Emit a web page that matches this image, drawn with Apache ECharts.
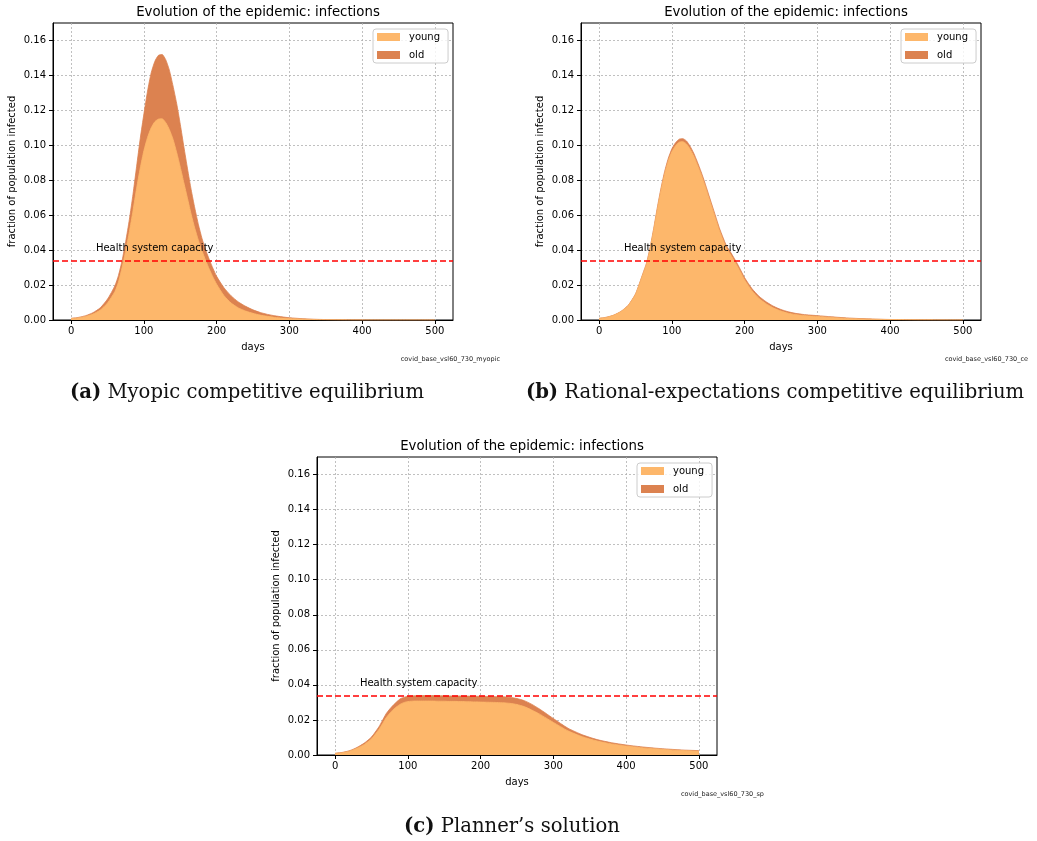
<!DOCTYPE html>
<html><head><meta charset="utf-8">
<script src="https://cdn.jsdelivr.net/npm/echarts@6/dist/echarts.min.js"></script>
<style>html,body{margin:0;padding:0;background:#fff}#c{width:1037px;height:841px}</style>
</head><body><div id="c"></div>
<script>
// ---- data ----
const days = [0,10,20,30,40,50,60,65,70,75,80,85,90,95,100,105,110,115,120,125,130,135,140,145,150,155,160,165,170,175,180,185,190,195,200,210,220,230,240,250,260,270,280,290,300,320,340,360,380,400,420,440,460,480,500];

// (a) myopic competitive equilibrium
const youngA = [0.0008,0.0012,0.0020,0.0034,0.0057,0.0098,0.0162,0.0217,0.0300,0.0397,0.0505,0.0625,0.0755,0.0870,0.0970,0.1045,0.1100,0.1135,0.1150,0.1152,0.1130,0.1090,0.1035,0.0960,0.0875,0.0785,0.0695,0.0605,0.0525,0.0455,0.0395,0.0340,0.0290,0.0245,0.0205,0.0140,0.0097,0.0069,0.0051,0.0038,0.0028,0.0021,0.0015,0.0011,0.0008,0.00045,0.0002,0.0001,0.00005,0.00002,0.00001,0.000005,0.000003,0.000002,0.000001];
const oldA   = [0.0002,0.0003,0.0005,0.0008,0.0013,0.0022,0.0033,0.0038,0.0040,0.0053,0.0070,0.0095,0.0125,0.0170,0.0210,0.0265,0.0315,0.0345,0.0365,0.0368,0.0360,0.0340,0.0305,0.0280,0.0245,0.0205,0.0170,0.0140,0.0115,0.0090,0.0070,0.0060,0.0055,0.0050,0.0045,0.0045,0.0041,0.0034,0.0027,0.0020,0.0015,0.0011,0.0009,0.0007,0.0005,0.00025,0.00015,0.00008,0.00003,0.00002,0.00001,0.000005,0.000003,0.000002,0.000001];

// (b) rational-expectations competitive equilibrium
const youngB = [0.00095,0.0015,0.0027,0.0048,0.0083,0.0147,0.0260,0.0319,0.0407,0.0516,0.0634,0.0743,0.0836,0.0910,0.0964,0.0998,0.1018,0.1021,0.1008,0.0978,0.0939,0.0889,0.0835,0.0775,0.0711,0.0646,0.0581,0.0516,0.0461,0.0411,0.0379,0.0344,0.0308,0.0269,0.0229,0.0168,0.0123,0.0092,0.0068,0.0051,0.0039,0.0031,0.0026,0.0023,0.0020,0.0014,0.0009,0.0006,0.0004,0.00023,0.00016,0.00008,0.00006,0.00003,0.000025];
const oldB   = [0.00005,0.0001,0.0001,0.00015,0.0002,0.0003,0.0005,0.0006,0.0008,0.0009,0.0011,0.0012,0.0014,0.0015,0.0016,0.0017,0.0017,0.0017,0.0017,0.0017,0.0016,0.0016,0.0015,0.0015,0.0014,0.0014,0.0014,0.0014,0.0014,0.0014,0.0014,0.0014,0.0014,0.0013,0.0013,0.0012,0.0012,0.0011,0.0010,0.0009,0.0008,0.0007,0.0006,0.0005,0.0005,0.0004,0.0003,0.0002,0.0001,0.00007,0.00004,0.00002,0.00001,0.00001,0.000005];

// (c) planner's solution
const youngC = [0.0009,0.0013,0.0022,0.0038,0.0060,0.0092,0.0145,0.0178,0.0212,0.0238,0.0260,0.0277,0.0291,0.0300,0.0305,0.0307,0.0308,0.0308,0.0308,0.0308,0.0308,0.0308,0.0307,0.0307,0.0307,0.0306,0.0306,0.0306,0.0305,0.0305,0.0304,0.0304,0.0303,0.0303,0.0302,0.0301,0.0300,0.0298,0.0295,0.0288,0.0276,0.0257,0.0236,0.0211,0.0186,0.0138,0.0104,0.0080,0.0063,0.0051,0.0042,0.0035,0.0029,0.0025,0.0021];
const oldC   = [0.0001,0.0002,0.0003,0.0005,0.0008,0.0011,0.0015,0.0019,0.0023,0.0024,0.0025,0.0028,0.0031,0.0030,0.0030,0.0030,0.0030,0.0031,0.0031,0.0031,0.0031,0.0031,0.0031,0.0031,0.0031,0.0031,0.0031,0.0031,0.0032,0.0032,0.0032,0.0032,0.0032,0.0032,0.0033,0.0033,0.0033,0.0034,0.0034,0.0034,0.0034,0.0033,0.0029,0.0026,0.0022,0.0015,0.0011,0.0008,0.0007,0.0006,0.0005,0.0004,0.0004,0.0003,0.0004];

const xTicks = [0,100,200,300,400,500];
const yTicks = [0,0.02,0.04,0.06,0.08,0.10,0.12,0.14,0.16];
const capacity = 0.0337;
const capacityLabel = 'Health system capacity';
const capacityLabelAt = [34, 0.041];
const seriesNames = ['young','old'];
const panelTitle = 'Evolution of the epidemic: infections';
const xName = 'days';
const yName = 'fraction of population infected';
const captionTags = ['(a)','(b)','(c)'];
const captionTexts = ['Myopic competitive equilibrium','Rational-expectations competitive equilibrium','Planner\u2019s solution'];
const fileTags = ['covid_base_vsl60_730_myopic','covid_base_vsl60_730_ce','covid_base_vsl60_730_sp'];

// ---- layout / styles ----
const youngColor = '#fdb76b';
const oldColor = '#dc8250';
const FONT = 'DejaVu Sans';
const panels = [
  {young: youngA, old: oldA, grid:{left:53, top:23, width:400, height:297}, capX:247, capY:393},
  {young: youngB, old: oldB, grid:{left:581, top:23, width:400, height:297}, capX:775, capY:393},
  {young: youngC, old: oldC, grid:{left:317, top:457, width:400, height:298}, capX:512, capY:827}
];

const chart = echarts.init(document.getElementById('c'), null, {renderer:'canvas'});
const grid = [], xAxis = [], yAxis = [], series = [], legend = [], title = [], graphic = [];
const gridLine = {show:true, lineStyle:{color:'#b0b0b0', width:0.8, type:[2,2]}};

panels.forEach((p, i) => {
  const g = p.grid;
  grid.push(Object.assign({show:true, borderColor:'#000', borderWidth:1, backgroundColor:'transparent', containLabel:false}, g));
  xAxis.push({
    type:'value', gridIndex:i, min:-25, max:525,
    name:xName, nameLocation:'middle', nameGap:22,
    nameTextStyle:{fontFamily:FONT, fontSize:10, color:'#000'},
    axisLine:{show:true, onZero:false, lineStyle:{color:'#000', width:1}},
    axisTick:{show:true, length:4, lineStyle:{color:'#000'}, customValues:xTicks},
    axisLabel:{fontFamily:FONT, fontSize:10, color:'#000', margin:6, customValues:xTicks},
    splitLine:gridLine
  });
  yAxis.push({
    type:'value', gridIndex:i, min:0, max:0.17,
    name:yName, nameLocation:'middle', nameGap:36, nameRotate:90,
    nameTextStyle:{fontFamily:FONT, fontSize:10, color:'#000'},
    axisLine:{show:true, onZero:false, lineStyle:{color:'#000', width:1}},
    axisTick:{show:true, length:4, lineStyle:{color:'#000'}, customValues:yTicks},
    axisLabel:{fontFamily:FONT, fontSize:10, color:'#000', margin:7, customValues:yTicks, formatter:v=>v.toFixed(2)},
    splitLine:gridLine
  });
  // stacked areas: the "old" layer sits on top of the "young" layer (cumulative top edge)
  const oldTop = days.map((d,k)=>[d, p.young[k] + p.old[k]]);
  series.push({
    type:'line', name:seriesNames[1], xAxisIndex:i, yAxisIndex:i,
    data: oldTop, symbol:'none', smooth:0.2, z:2,
    lineStyle:{width:0.8, color:oldColor}, itemStyle:{color:oldColor},
    areaStyle:{color:oldColor, opacity:1, origin:'start'}
  });
  series.push({
    type:'line', name:seriesNames[0], xAxisIndex:i, yAxisIndex:i,
    data: days.map((d,k)=>[d, p.young[k]]), symbol:'none', smooth:0.2, z:3,
    lineStyle:{width:0.8, color:youngColor}, itemStyle:{color:youngColor},
    areaStyle:{color:youngColor, opacity:1, origin:'start'},
    markLine:{silent:true, symbol:'none', precision:6, label:{show:false},
      lineStyle:{color:'#ff0000', width:1.5, type:[6,3]},
      data:[{yAxis:capacity}]},
    markPoint:{silent:true, symbol:'circle', symbolSize:0,
      label:{show:true, position:'right', distance:0, formatter:capacityLabel, fontFamily:FONT, fontSize:10, color:'#000'},
      data:[{coord:capacityLabelAt}]}
  });
  legend.push({
    data:seriesNames, orient:'vertical', left:g.left+g.width-80, top:g.top+6,
    icon:'rect', itemWidth:23, itemHeight:8, itemGap:8,
    padding:[3,8,3,4], borderColor:'#cccccc', borderWidth:1, borderRadius:3,
    backgroundColor:'rgba(255,255,255,0.8)',
    textStyle:{fontFamily:FONT, fontSize:10, color:'#000', padding:[0,0,0,4]}
  });
  title.push({
    text:panelTitle, left:g.left+g.width/2, textAlign:'center', top:g.top-22,
    textStyle:{fontFamily:FONT, fontSize:13.3, fontWeight:'normal', color:'#000'}
  });
  graphic.push({type:'text', x:g.left+g.width+47, y:g.top+g.height+39,
    style:{text:fileTags[i], textAlign:'right', textVerticalAlign:'middle', fontFamily:FONT, fontSize:6.5, fill:'#222'}});
  graphic.push({type:'text', x:p.capX, y:p.capY,
    style:{text:'{b|'+captionTags[i]+'} '+captionTexts[i], textAlign:'center', textVerticalAlign:'middle',
      fontFamily:'DejaVu Serif', fontSize:19.6, fill:'#111',
      rich:{b:{fontWeight:'bold', fontFamily:'DejaVu Serif', fontSize:19.6, fill:'#111'}}}});
});

chart.setOption({
  animation:false, backgroundColor:'#fff',
  grid, xAxis, yAxis, series, legend, title, graphic
});
</script></body></html>
